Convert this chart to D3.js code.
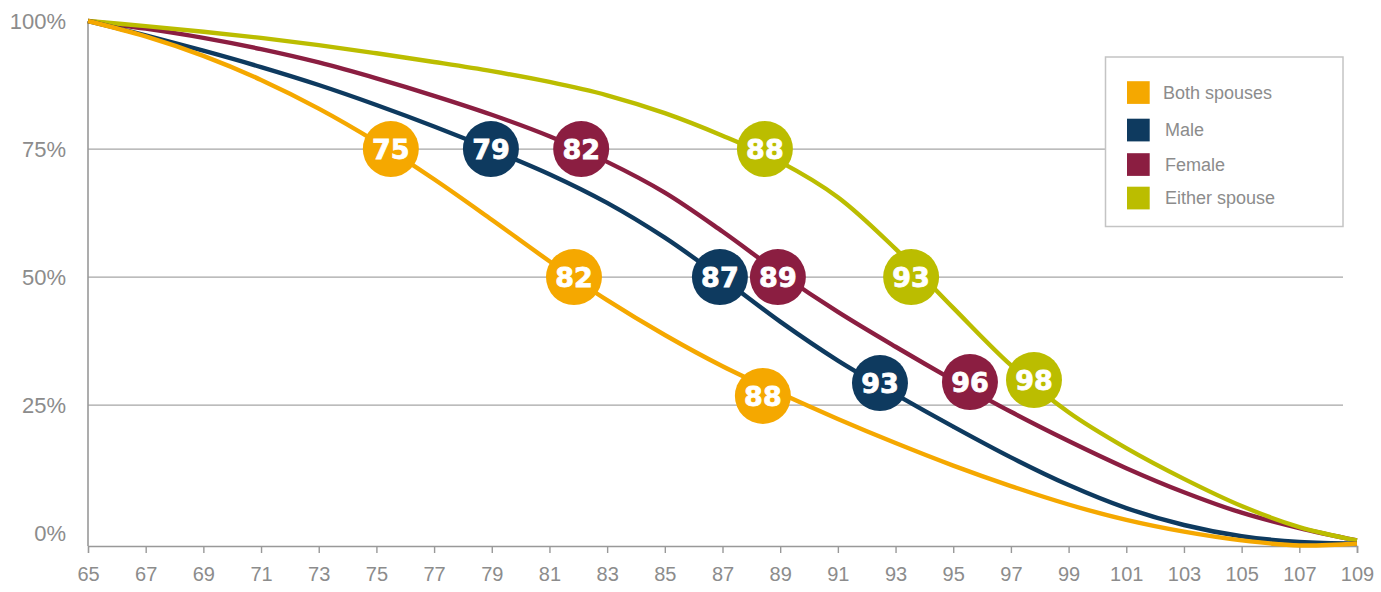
<!DOCTYPE html>
<html>
<head>
<meta charset="utf-8">
<script src="https://cdn.jsdelivr.net/npm/d3@7"></script>
<style>
  body { margin: 0; background: #fff; }
</style>
</head>
<body>
<svg id="viz"></svg>
<script>
var width = 1381;
var height = 592;

// ages on the x axis
var ages = [65, 67, 69, 71, 73, 75, 77, 79, 81, 83, 85, 87, 89, 91, 93, 95, 97, 99, 101, 103, 105, 107, 109];

// probability (%) of still being alive
var bothSpouses = [100, 97.0, 93.2, 88.5, 82.9, 76.4, 69.1, 61.2, 53.1, 45.5, 38.7, 32.6, 27.3, 22.3, 17.6, 13.2, 9.2, 5.6, 2.6, 0.3, -1.4, -2.4, -2.0];
var male        = [100, 97.2, 94.2, 91.0, 87.5, 83.6, 79.4, 74.9, 70.1, 64.5, 57.7, 49.7, 41.3, 33.7, 27.1, 20.8, 14.8, 9.4, 4.9, 1.6, -0.6, -1.7, -2.0];
var female      = [100, 98.5, 96.7, 94.5, 91.9, 88.8, 85.4, 81.7, 77.5, 72.5, 66.5, 58.9, 50.7, 43.2, 36.4, 29.9, 23.7, 18.0, 12.7, 8.0, 4.0, 1.0, -1.4];
var either      = [100, 99.0, 97.9, 96.7, 95.3, 93.7, 92.0, 90.2, 88.1, 85.5, 82.0, 77.6, 72.5, 65.6, 55.5, 44.0, 32.8, 23.6, 16.6, 10.6, 5.3, 1.2, -1.4];

var seriesNames = ["Both spouses", "Male", "Female", "Either spouse"];
var colors = ["#f5a800", "#0e3a5f", "#8b1e41", "#bbbd00"];

var yTicks = [0, 25, 50, 75, 100];
var gridTicks = [25, 50, 75];

// age bubbles placed along the curves
var markers = [
    { series: "Both spouses", age: 75.5, pct: 75, label: "75" },
    { series: "Both spouses", age: 81.85, pct: 50, label: "82" },
    { series: "Both spouses", age: 88.4, pct: 26.8, label: "88" },
    { series: "Male", age: 78.97, pct: 75, label: "79" },
    { series: "Male", age: 86.91, pct: 50, label: "87" },
    { series: "Male", age: 92.46, pct: 29.3, label: "93" },
    { series: "Female", age: 82.1, pct: 75, label: "82" },
    { series: "Female", age: 88.92, pct: 50, label: "89" },
    { series: "Female", age: 95.58, pct: 29.5, label: "96" },
    { series: "Either spouse", age: 88.47, pct: 75, label: "88" },
    { series: "Either spouse", age: 93.54, pct: 50, label: "93" },
    { series: "Either spouse", age: 97.8, pct: 29.9, label: "98" }
];

var values = {
    "Both spouses": bothSpouses,
    "Male": male,
    "Female": female,
    "Either spouse": either
};
var color = d3.scaleOrdinal().domain(seriesNames).range(colors);

var svg = d3.select("#viz").attr("width", width).attr("height", height);

var x = d3.scaleLinear().domain([65, 109]).range([88, 1357]);
var y = d3.scaleLinear().domain([-2.5, 100]).range([546, 21]);

var grey = "#8c8c8c";

// gridlines
svg.append("g")
    .attr("stroke", "#a6a6a6")
    .attr("stroke-width", 1.2)
  .selectAll("line")
  .data(gridTicks)
  .enter().append("line")
    .attr("x1", x(65))
    .attr("x2", 1343)
    .attr("y1", function (d) { return y(d); })
    .attr("y2", function (d) { return y(d); });

// y labels
svg.append("g")
    .attr("font-family", "'Liberation Sans', Arial, sans-serif")
    .attr("font-size", 22)
    .attr("fill", grey)
    .attr("text-anchor", "end")
  .selectAll("text")
  .data(yTicks)
  .enter().append("text")
    .attr("x", 66)
    .attr("y", function (d) { return y(d); })
    .attr("dy", "0.36em")
    .text(function (d) { return d + "%"; });

// x axis
var xAxis = d3.axisBottom(x)
    .tickValues(ages)
    .tickSize(7)
    .tickPadding(14)
    .tickFormat(d3.format("d"));

var gx = svg.append("g")
    .attr("transform", "translate(0," + y(-2.5) + ")")
    .call(xAxis);
gx.select(".domain").attr("stroke", "#999").attr("stroke-width", 1.6);
gx.selectAll(".tick line").attr("stroke", "#999").attr("stroke-width", 1.4);
gx.selectAll(".tick").filter(function (d) { return d === 65; }).select("line").remove();
gx.selectAll(".tick text")
    .attr("fill", grey)
    .attr("font-family", "'Liberation Sans', Arial, sans-serif")
    .attr("font-size", 20);

// y axis line
svg.append("line")
    .attr("x1", x(65)).attr("x2", x(65))
    .attr("y1", y(100)).attr("y2", y(-2.5))
    .attr("stroke", "#999")
    .attr("stroke-width", 1.6);

// curves
var line = d3.line()
    .x(function (d, i) { return x(ages[i]); })
    .y(function (d) { return y(d); })
    .curve(d3.curveCatmullRom.alpha(0.5));

var drawOrder = ["Female", "Either spouse", "Male", "Both spouses"];
svg.append("g")
    .attr("fill", "none")
    .attr("stroke-width", 4.4)
  .selectAll("path")
  .data(drawOrder)
  .enter().append("path")
    .attr("stroke", function (d) { return color(d); })
    .attr("d", function (d) { return line(values[d]); });

// bubbles
var bubble = svg.append("g")
  .selectAll("g")
  .data(markers)
  .enter().append("g")
    .attr("transform", function (d) { return "translate(" + x(d.age) + "," + y(d.pct) + ")"; });

bubble.append("circle")
    .attr("r", 28)
    .attr("fill", function (d) { return color(d.series); });

bubble.append("text")
    .attr("text-anchor", "middle")
    .attr("dy", "0.37em")
    .attr("fill", "#fff")
    .attr("stroke", "#fff")
    .attr("stroke-width", 0.8)
    .attr("font-family", "'DejaVu Sans', sans-serif")
    .attr("font-weight", "bold")
    .attr("font-size", 27)
    .text(function (d) { return d.label; });

// legend
var legend = svg.append("g");
legend.append("rect")
    .attr("x", 1105.5)
    .attr("y", 57)
    .attr("width", 237.5)
    .attr("height", 169.5)
    .attr("fill", "#fff")
    .attr("stroke", "#c4c4c4")
    .attr("stroke-width", 1.5);

var legendY = [92.5, 130, 164.5, 198];
var item = legend.selectAll("g")
  .data(seriesNames)
  .enter().append("g")
    .attr("transform", function (d, i) { return "translate(1127," + legendY[i] + ")"; });

item.append("rect")
    .attr("y", -11.3)
    .attr("width", 22.7)
    .attr("height", 22.7)
    .attr("fill", function (d) { return color(d); });

item.append("text")
    .attr("x", function (d, i) { return i === 0 ? 36 : 38; })
    .attr("dy", "0.36em")
    .attr("fill", grey)
    .attr("font-family", "'Liberation Sans', Arial, sans-serif")
    .attr("font-size", 18)
    .text(function (d) { return d; });
</script>
</body>
</html>
